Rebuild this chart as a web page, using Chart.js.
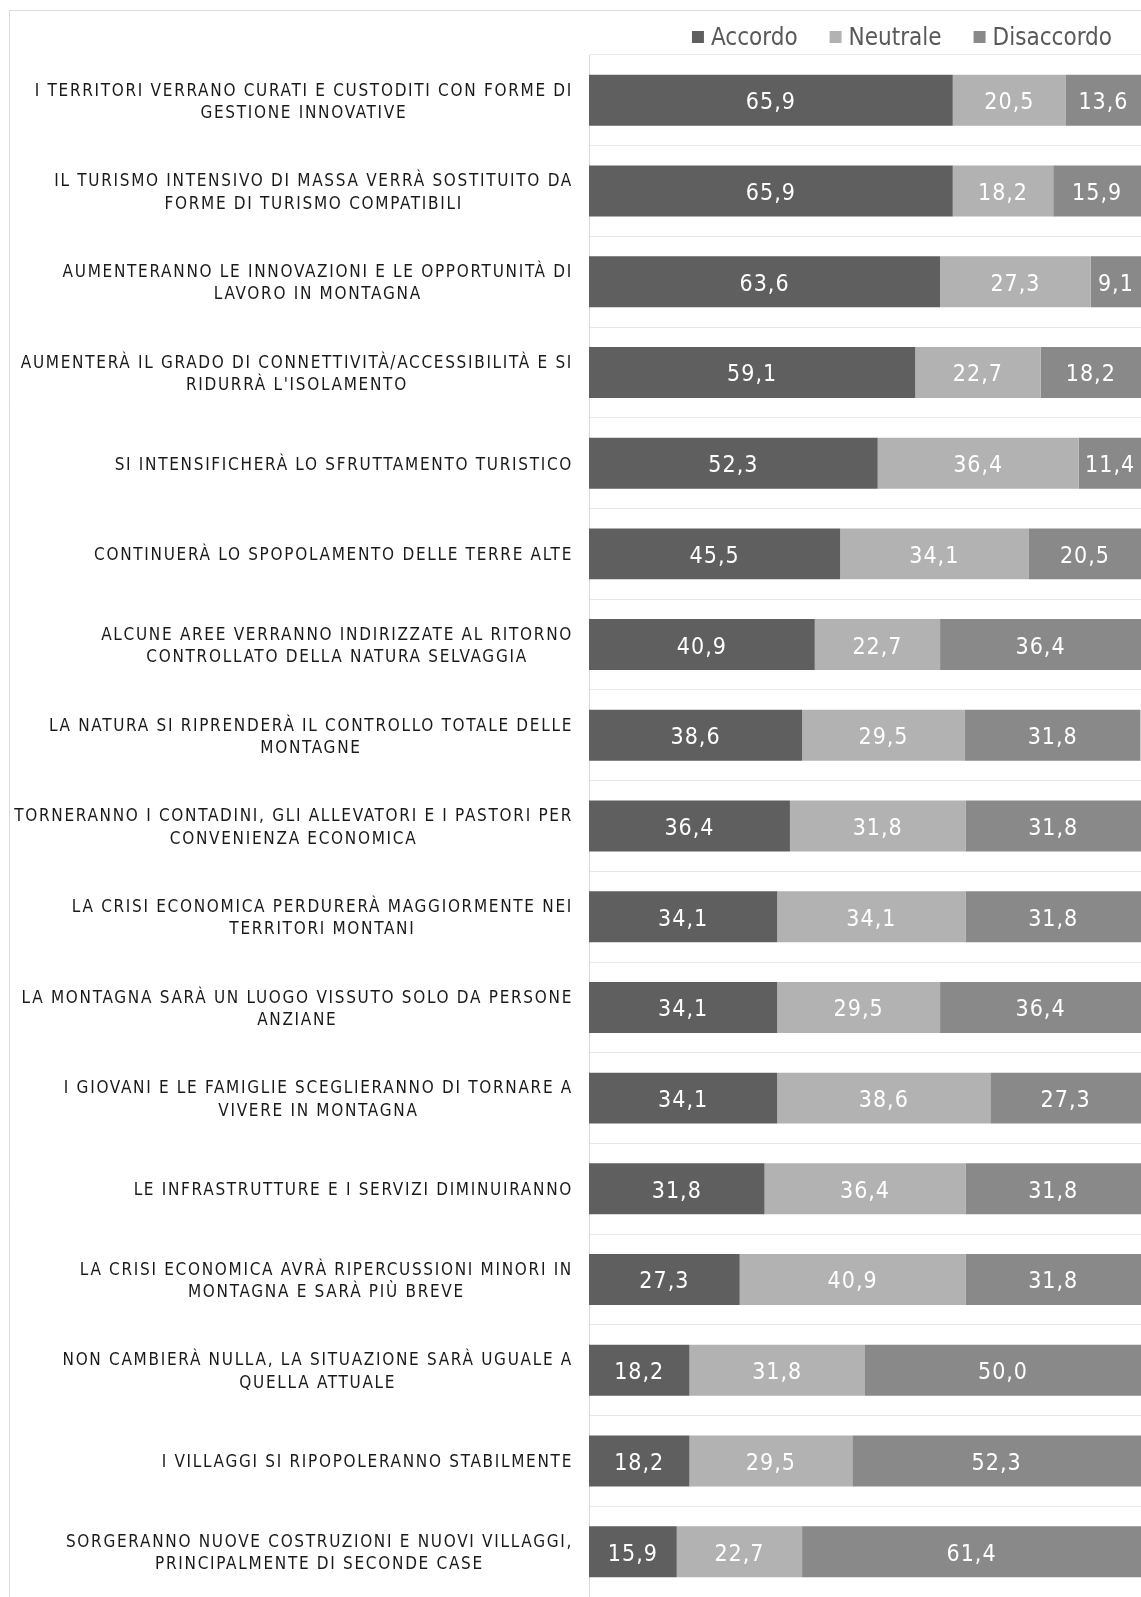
<!DOCTYPE html>
<html>
<head>
<meta charset="utf-8">
<script src="https://cdn.jsdelivr.net/npm/chart.js"></script>
<style>
  body { margin: 0; background: #fff; }
  #box { position: absolute; left: 0; top: 0; width: 1141px; height: 1597px; }
</style>
</head>
<body>
<div id="box"><canvas id="statsChart"></canvas></div>
<script>
    // categories (one entry per bar, lines already split as in the original)
    var categories = [
        ['I TERRITORI VERRANO CURATI E CUSTODITI CON FORME DI', 'GESTIONE INNOVATIVE'],
        ['IL TURISMO INTENSIVO DI MASSA VERRÀ SOSTITUITO DA', 'FORME DI TURISMO COMPATIBILI'],
        ['AUMENTERANNO LE INNOVAZIONI E LE OPPORTUNITÀ DI', 'LAVORO IN MONTAGNA'],
        ['AUMENTERÀ IL GRADO DI CONNETTIVITÀ/ACCESSIBILITÀ E SI', "RIDURRÀ L'ISOLAMENTO"],
        ['SI INTENSIFICHERÀ LO SFRUTTAMENTO TURISTICO'],
        ['CONTINUERÀ LO SPOPOLAMENTO DELLE TERRE ALTE'],
        ['ALCUNE AREE VERRANNO INDIRIZZATE AL RITORNO', 'CONTROLLATO DELLA NATURA SELVAGGIA'],
        ['LA NATURA SI RIPRENDERÀ IL CONTROLLO TOTALE DELLE', 'MONTAGNE'],
        ['TORNERANNO I CONTADINI, GLI ALLEVATORI E I PASTORI PER', 'CONVENIENZA ECONOMICA'],
        ['LA CRISI ECONOMICA PERDURERÀ MAGGIORMENTE NEI', 'TERRITORI MONTANI'],
        ['LA MONTAGNA SARÀ UN LUOGO VISSUTO SOLO DA PERSONE', 'ANZIANE'],
        ['I GIOVANI E LE FAMIGLIE SCEGLIERANNO DI TORNARE A', 'VIVERE IN MONTAGNA'],
        ['LE INFRASTRUTTURE E I SERVIZI DIMINUIRANNO'],
        ['LA CRISI ECONOMICA AVRÀ RIPERCUSSIONI MINORI IN', 'MONTAGNA E SARÀ PIÙ BREVE'],
        ['NON CAMBIERÀ NULLA, LA SITUAZIONE SARÀ UGUALE A', 'QUELLA ATTUALE'],
        ['I VILLAGGI SI RIPOPOLERANNO STABILMENTE'],
        ['SORGERANNO NUOVE COSTRUZIONI E NUOVI VILLAGGI,', 'PRINCIPALMENTE DI SECONDE CASE']
    ];
    var seriesNames = ['Accordo', 'Neutrale', 'Disaccordo'];
    var accordo    = [65.9, 65.9, 63.6, 59.1, 52.3, 45.5, 40.9, 38.6, 36.4, 34.1, 34.1, 34.1, 31.8, 27.3, 18.2, 18.2, 15.9];
    var neutrale   = [20.5, 18.2, 27.3, 22.7, 36.4, 34.1, 22.7, 29.5, 31.8, 34.1, 29.5, 38.6, 36.4, 40.9, 31.8, 29.5, 22.7];
    var disaccordo = [13.6, 15.9, 9.1, 18.2, 11.4, 20.5, 36.4, 31.8, 31.8, 31.8, 36.4, 27.3, 31.8, 31.8, 50.0, 52.3, 61.4];
    var colors = ['#5f5f5f', '#b2b2b2', '#898989'];

    var FAMILY = "'DejaVu Sans Condensed', 'DejaVu Sans', sans-serif";

    function setFont(c, size, spacing) {
        c.font = size + 'px ' + FAMILY;
        try { c.fontStretch = 'condensed'; } catch (e) {}
        try { c.letterSpacing = (spacing || 0) + 'px'; } catch (e) {}
    }

    // outer frame, category labels, value labels and legend
    var decorPlugin = {
        id: 'decor',
        beforeDraw: function (chart) {
            var c = chart.ctx;
            c.save();
            c.strokeStyle = '#d9d9d9';
            c.lineWidth = 1;
            c.beginPath();
            c.moveTo(9.5, chart.height);
            c.lineTo(9.5, 10.5);
            c.lineTo(chart.width, 10.5);
            c.stroke();
            c.restore();
        },
        afterDraw: function (chart) {
            var c = chart.ctx;
            var yScale = chart.scales.y;
            c.save();

            // category labels: lines centred on each other, block right-aligned
            setFont(c, 17, 1.7);
            c.fillStyle = '#1a1a1a';
            c.textAlign = 'center';
            c.textBaseline = 'middle';
            var rightEdge = chart.chartArea.left - 16;
            categories.forEach(function (lines, i) {
                var y = yScale.getPixelForValue(i) + 2;
                var maxW = 0;
                lines.forEach(function (l) { maxW = Math.max(maxW, c.measureText(l).width); });
                var cx = rightEdge - maxW / 2;
                lines.forEach(function (l, k) {
                    c.fillText(l, cx, y + (k - (lines.length - 1) / 2) * 22.4);
                });
            });

            // value labels inside the bars
            setFont(c, 23, 1);
            c.fillStyle = '#ffffff';
            chart.data.datasets.forEach(function (ds, d) {
                var meta = chart.getDatasetMeta(d);
                meta.data.forEach(function (bar, i) {
                    var txt = ds.data[i].toFixed(1).replace('.', ',');
                    c.fillText(txt, (bar.x + bar.base) / 2, bar.y + 3);
                });
            });

            // legend, right aligned at the top
            setFont(c, 24, 0);
            c.textAlign = 'left';
            var x = 1112;
            var items = [];
            for (var d = chart.data.datasets.length - 1; d >= 0; d--) {
                var ds = chart.data.datasets[d];
                var w = c.measureText(ds.label).width;
                x -= w;
                items.push({ label: ds.label, color: ds.backgroundColor, tx: x, bx: x - 19 });
                x -= 19 + 32;
            }
            items.forEach(function (it) {
                c.fillStyle = it.color;
                c.fillRect(it.bx, 31, 12, 12);
                c.fillStyle = '#595959';
                c.fillText(it.label, it.tx, 39);
            });
            c.restore();
        }
    };

    var ctx = document.getElementById('statsChart').getContext('2d');
    var statsChart = new Chart(ctx, {
        type: 'bar',
        data: {
            labels: categories,
            datasets: [
                { label: seriesNames[0], data: accordo, backgroundColor: colors[0] },
                { label: seriesNames[1], data: neutrale, backgroundColor: colors[1] },
                { label: seriesNames[2], data: disaccordo, backgroundColor: colors[2] }
            ]
        },
        options: {
            indexAxis: 'y',
            responsive: true,
            maintainAspectRatio: false,
            animation: false,
            datasets: {
                bar: { barPercentage: 0.562, categoryPercentage: 1, borderWidth: 0 }
            },
            layout: { padding: { top: 55, left: 0, right: 0, bottom: 0 } },
            plugins: {
                legend: { display: false },
                tooltip: { enabled: false }
            },
            scales: {
                x: {
                    stacked: true,
                    min: 0,
                    max: 100,
                    display: false
                },
                y: {
                    stacked: true,
                    ticks: { display: false },
                    grid: { color: '#e6e6e6', drawTicks: false, offset: true },
                    border: { display: true, color: '#d9d9d9' },
                    afterFit: function (scale) { scale.width = 589; }
                }
            }
        },
        plugins: [decorPlugin]
    });
</script>
</body>
</html>
